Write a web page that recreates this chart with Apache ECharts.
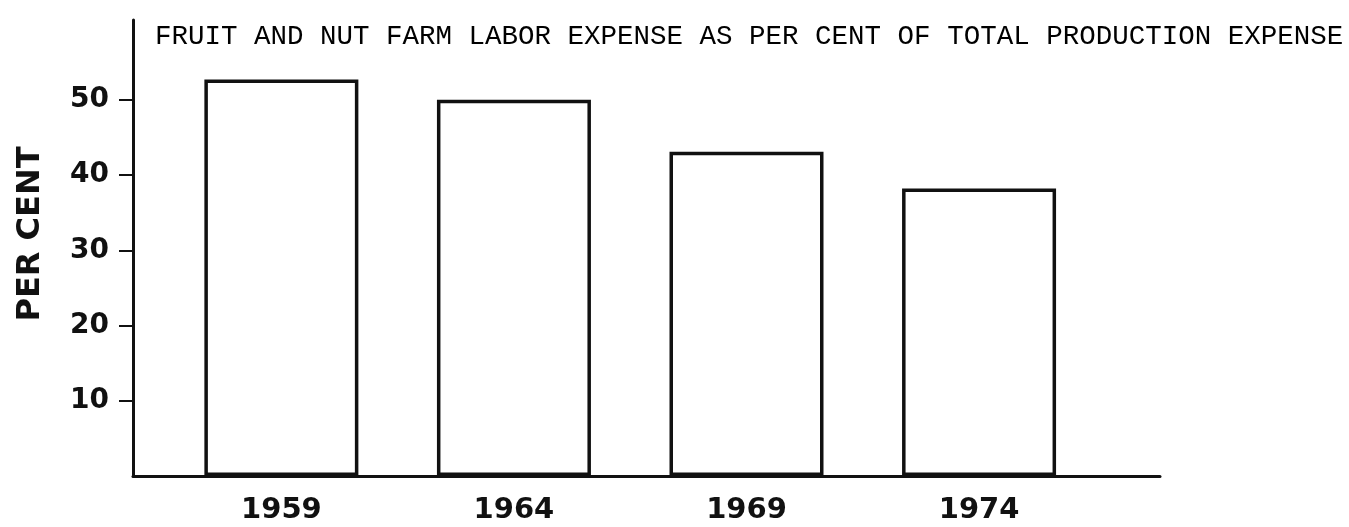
<!DOCTYPE html>
<html>
<head>
<meta charset="utf-8">
<script src="https://cdn.jsdelivr.net/npm/echarts@6/dist/echarts.min.js"></script>
<style>
html,body{margin:0;padding:0;background:#fff;}
#chart{width:1349px;height:527px;}
</style>
</head>
<body>
<div id="chart"></div>
<script>
const titleText = 'FRUIT AND NUT FARM LABOR EXPENSE AS PER CENT OF TOTAL PRODUCTION EXPENSE';
const yAxisName = 'PER CENT';
const years = [1959, 1964, 1969, 1974];
const laborPercent = [52.7, 50.0, 43.1, 38.2];
const yTicks = [10, 20, 30, 40, 50];

const chart = echarts.init(document.getElementById('chart'));
chart.setOption({
  backgroundColor: '#ffffff',
  animation: false,
  title: {
    text: titleText,
    left: 150,
    top: 18,
    textStyle: {
      fontFamily: 'Liberation Mono',
      fontSize: 27.5,
      fontWeight: 'normal',
      color: '#000'
    }
  },
  grid: { left: 133, right: 189, top: 20, bottom: 51, containLabel: false, outerBoundsMode: 'none' },
  xAxis: {
    type: 'value',
    min: 1955.81,
    max: 1977.89,
    axisLine: { show: true, lineStyle: { color: '#111', width: 3 } },
    axisTick: { show: false },
    splitLine: { show: false },
    axisLabel: {
      customValues: years,
      formatter: v => String(v),
      margin: 20,
      fontFamily: 'DejaVu Sans',
      fontWeight: 'bold',
      fontSize: 29,
      color: '#111'
    }
  },
  yAxis: {
    type: 'value',
    min: 0,
    max: 60.6,
    name: yAxisName,
    nameLocation: 'middle',
    nameRotate: 90,
    nameGap: 86,
    nameTextStyle: {
      fontFamily: 'DejaVu Sans',
      fontWeight: 'bold',
      fontSize: 32,
      color: '#111',
      padding: [0, 0, 0, 28]
    },
    axisLine: { show: true, lineStyle: { color: '#111', width: 3 } },
    axisTick: { show: true, customValues: yTicks, length: 14, lineStyle: { color: '#111', width: 2 } },
    splitLine: { show: false },
    axisLabel: {
      customValues: yTicks,
      margin: 24,
      fontFamily: 'DejaVu Sans',
      fontWeight: 'bold',
      fontSize: 28,
      color: '#111'
    }
  },
  series: [{
    type: 'bar',
    data: years.map((y, i) => [y, laborPercent[i]]),
    barWidth: 154,
    itemStyle: { color: '#ffffff', borderColor: '#111', borderWidth: 3.5 }
  }]
});
</script>
</body>
</html>
